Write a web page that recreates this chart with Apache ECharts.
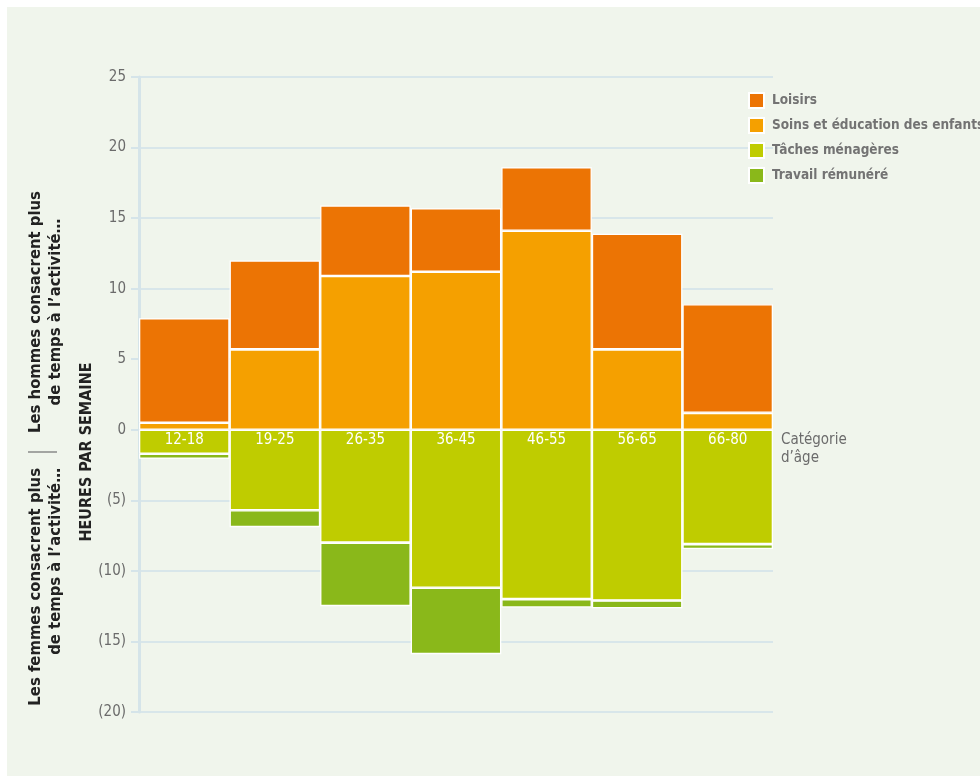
<!DOCTYPE html>
<html>
<head>
<meta charset="utf-8">
<script src="https://cdn.jsdelivr.net/npm/echarts@6/dist/echarts.min.js"></script>
<style>
  html, body { margin: 0; padding: 0; background: #ffffff; }
  #chart {
    position: absolute; left: 0; top: 0; width: 980px; height: 776px;
    background: #f0f5ec;
    box-shadow: inset 7px 7px 0 #ffffff;
  }
</style>
</head>
<body>
<div id="chart"></div>
<script>
// Age groups
const categories = ['12-18', '19-25', '26-35', '36-45', '46-55', '56-65', '66-80'];

// Hours per week: positive = men spend more time, negative = women spend more time
const soins   = [0.5, 5.7, 10.9, 11.2, 14.1, 5.7, 1.2];
const loisirs = [7.4, 6.3, 5.0, 4.5, 4.5, 8.2, 7.7];
const taches  = [-1.7, -5.7, -8.0, -11.2, -12.0, -12.1, -8.1];
const travail = [-0.35, -1.2, -4.5, -4.7, -0.6, -0.55, -0.35];

// Axis ticks
const yMin = -20, yMax = 25, yStep = 5;

const FONT = "'Liberation Sans Narrow', 'DejaVu Sans Condensed', 'Roboto Condensed', sans-serif";
const COLORS = {
  loisirs: '#ec7404',
  soins: '#f5a000',
  taches: '#bfcc00',
  travail: '#8ab81a'
};

const chart = echarts.init(document.getElementById('chart'), null, { renderer: 'canvas' });

function barSeries(name, data, color, extra) {
  return Object.assign({
    name: name,
    type: 'bar',
    stack: 'heures',
    data: data,
    barCategoryGap: 0,
    itemStyle: { color: color, borderColor: '#ffffff', borderWidth: 1.3 },
    emphasis: { disabled: true }
  }, extra || {});
}

const option = {
  animation: false,
  textStyle: { fontFamily: FONT },
  grid: { left: 139, right: 207, top: 77, bottom: 64 },
  legend: {
    orient: 'vertical',
    left: 748,
    top: 92,
    padding: 0,
    itemWidth: 15,
    itemHeight: 15,
    itemGap: 8,
    icon: 'rect',
    data: ['Loisirs', 'Soins et éducation des enfants', 'Tâches ménagères', 'Travail rémunéré'],
    textStyle: {
      color: '#737373', fontSize: 13.5, fontWeight: 'bold', fontFamily: FONT,
      lineHeight: 15, padding: [0, 0, 0, 3]
    },
    selectedMode: false
  },
  xAxis: {
    type: 'category',
    data: categories,
    axisLine: { show: false, onZero: true },
    axisTick: { show: false },
    axisLabel: { show: false },
    name: 'Catégorie\nd’âge',
    nameLocation: 'end',
    nameGap: 8,
    nameTextStyle: {
      color: '#6b6b6b', fontSize: 15, fontFamily: FONT,
      align: 'left', verticalAlign: 'top', lineHeight: 18, padding: [1, 0, 0, 0]
    }
  },
  yAxis: {
    type: 'value',
    min: yMin,
    max: yMax,
    interval: yStep,
    axisLine: { show: true, lineStyle: { color: '#d5e4e9', width: 3 } },
    axisTick: { show: true, length: 8, lineStyle: { color: '#d5e4e9', width: 2 } },
    splitLine: { show: true, lineStyle: { color: '#d8e6ea', width: 2 } },
    axisLabel: {
      color: '#6b6b6b', fontSize: 15, fontFamily: FONT, margin: 13,
      formatter: v => (v < 0 ? '(' + (-v) + ')' : String(v))
    }
  },
  series: [
    barSeries('Soins et éducation des enfants', soins, COLORS.soins),
    barSeries('Loisirs', loisirs, COLORS.loisirs),
    barSeries('Tâches ménagères', taches, COLORS.taches, {
      label: {
        show: true,
        position: 'insideTop',
        distance: 3,
        formatter: '{b}',
        color: '#ffffff',
        fontSize: 15,
        fontFamily: FONT
      }
    }),
    barSeries('Travail rémunéré', travail, COLORS.travail)
  ],
  graphic: [
    {
      type: 'text', x: 26, y: 312, rotation: Math.PI / 2,
      style: {
        text: 'Les hommes consacrent plus\nde temps à l’activité…',
        fill: '#222222', font: "bold 16.5px " + FONT, align: 'center', verticalAlign: 'top', lineHeight: 20
      }
    },
    {
      type: 'text', x: 26, y: 468, rotation: Math.PI / 2,
      style: {
        text: 'Les femmes consacrent plus\nde temps à l’activité…',
        fill: '#222222', font: "bold 16.5px " + FONT, align: 'right', verticalAlign: 'top', lineHeight: 20
      }
    },
    {
      type: 'line',
      shape: { x1: 28, y1: 452, x2: 57, y2: 452 },
      style: { stroke: '#8a8a8a', lineWidth: 1.5 }
    },
    {
      type: 'text', x: 79, y: 452, rotation: Math.PI / 2,
      style: {
        text: 'HEURES PAR SEMAINE',
        fill: '#222222', font: "bold 16px " + FONT, align: 'center', verticalAlign: 'top'
      }
    }
  ]
};

chart.setOption(option);
</script>
</body>
</html>
